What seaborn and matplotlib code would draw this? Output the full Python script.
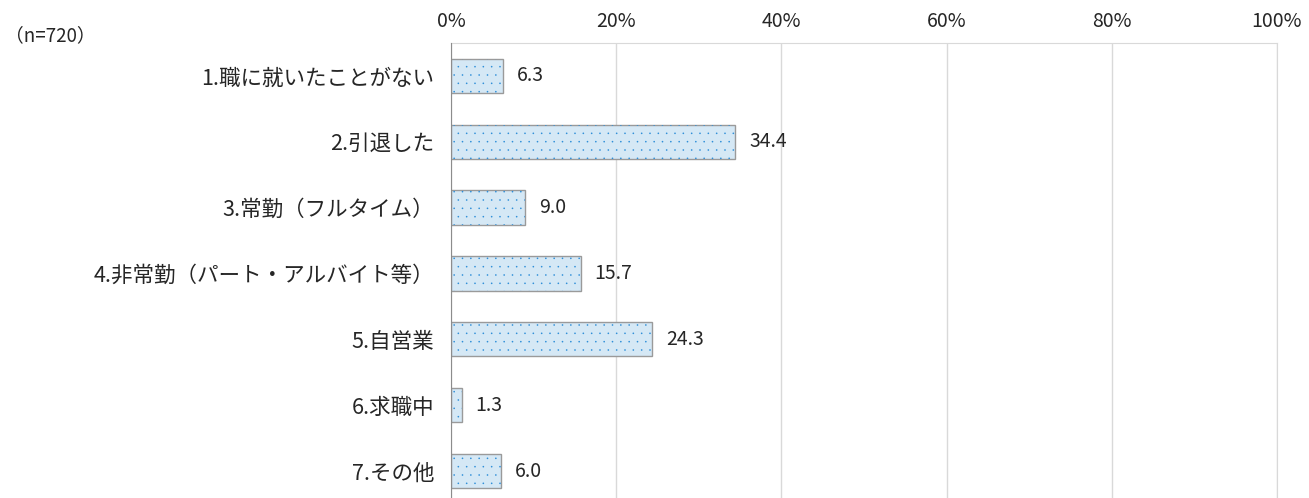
import matplotlib
matplotlib.use("Agg")
import matplotlib.pyplot as plt
import seaborn as sns
import pandas as pd

categories = ["1.職に就いたことがない", "2.引退した", "3.常勤（フルタイム）",
              "4.非常勤（パート・アルバイト等）", "5.自営業", "6.求職中", "7.その他"]
values = [6.3, 34.4, 9.0, 15.7, 24.3, 1.3, 6.0]
xticks = [0, 20, 40, 60, 80, 100]
xtick_labels = ["0%", "20%", "40%", "60%", "80%", "100%"]
n_label = "（n=720）"

df = pd.DataFrame({"cat": categories, "val": values})

sns.set_style("white")
plt.rcParams["font.family"] = ["Noto Sans CJK JP", "DejaVu Sans"]
plt.rcParams["hatch.linewidth"] = 0.0

fig = plt.figure(figsize=(13.09, 4.98), dpi=100)
ax = fig.add_axes([0.3445, -0.012, 0.631, 0.9257])

# base bars
sns.barplot(data=df, x="val", y="cat", orient="h", color="#d5e8f5",
            saturation=1, edgecolor="#9a9a9a", linewidth=1.0, width=0.52, ax=ax)
n = len(values)
# dotted overlay
sns.barplot(data=df, x="val", y="cat", orient="h", color="#2f8fd8",
            saturation=1, width=0.52, ax=ax)
for p in ax.patches[n:]:
    p.set_hatch("..")
    p.set_facecolor("none")
    p.set_edgecolor("#2f8fd8")
    p.set_linewidth(0)

for p, v in zip(ax.patches[:n], values):
    ax.text(p.get_width() + 1.7, p.get_y() + p.get_height() / 2, f"{v:.1f}",
            va="center", ha="left", fontsize=14)

ax.set_xlim(0, 100)
ax.set_ylim(n - 0.5, -0.5)
ax.set_xticks(xticks)
ax.set_xticklabels(xtick_labels, fontsize=14)
ax.xaxis.tick_top()
ax.tick_params(axis="x", length=0, pad=8)
ax.tick_params(axis="y", length=0, pad=12, labelsize=15.5)
ax.set_xlabel("")
ax.set_ylabel("")
ax.grid(axis="x", color="#d9d9d9", linewidth=1.0)
ax.set_axisbelow(True)
for s in ["top", "right", "bottom"]:
    ax.spines[s].set_color("#d9d9d9")
ax.spines["left"].set_color("#8c8c8c")
ax.spines["left"].set_zorder(5)

fig.text(0.004, 0.928, n_label, fontsize=13.5, ha="left", va="center")

fig.savefig("out.png", dpi=100)
